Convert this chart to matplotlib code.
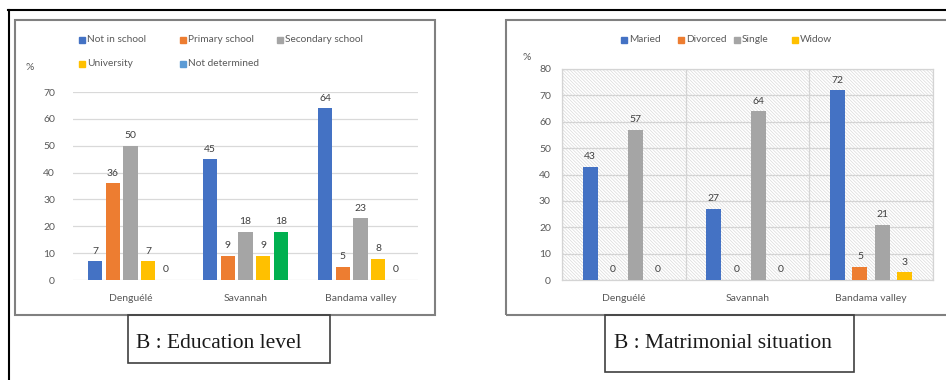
import numpy as np
import matplotlib
matplotlib.use("Agg")
import matplotlib.pyplot as plt
from matplotlib.patches import Rectangle
from matplotlib.lines import Line2D

# regions shared by both panels
regions = ["Denguélé", "Savannah", "Bandama valley"]

# education level (%)
edu_labels = ["Not in school", "Primary school", "Secondary school", "University", "Not determined"]
not_in_school = [7, 45, 64]
primary = [36, 9, 5]
secondary = [50, 18, 23]
university = [7, 9, 8]
not_determined = [0, 18, 0]

# matrimonial situation (%)
mat_labels = ["Maried", "Divorced", "Single", "Widow"]
maried = [43, 27, 72]
divorced = [0, 0, 5]
single = [57, 64, 21]
widow = [0, 0, 3]

BLUE, ORANGE, GRAY, YELLOW = "#4472C4", "#ED7D31", "#A5A5A5", "#FFC000"
LBLUE, GREEN = "#5B9BD5", "#00B050"
TXT = "#595959"

plt.rcParams["font.family"] = ["Lato", "DejaVu Sans"]
plt.rcParams["hatch.linewidth"] = 0.5
plt.rcParams["hatch.color"] = "#dadada"

W, H = 946, 380
fig = plt.figure(figsize=(W / 100, H / 100), dpi=100)


def px_axes(x0, y0, x1, y1):
    # pixel box (top-left origin) -> figure axes
    return fig.add_axes([x0 / W, 1 - y1 / H, (x1 - x0) / W, (y1 - y0) / H])


def px_rect(x0, y0, x1, y1, ec, lw):
    fig.patches.append(Rectangle((x0 / W, 1 - y1 / H), (x1 - x0) / W, (y1 - y0) / H,
                                 transform=fig.transFigure, fill=False,
                                 edgecolor=ec, linewidth=lw, zorder=5))


def px_text(x, y, s, **kw):
    fig.text(x / W, 1 - y / H, s, **kw)


def legend_row(items, y):
    for x, lab, col in items:
        fig.patches.append(Rectangle(((x - 3) / W, 1 - (y + 3) / H), 6 / W, 6 / H,
                                     transform=fig.transFigure, color=col, zorder=6))
        px_text(x + 5, y, lab, fontsize=7.3, color=TXT, va="center", ha="left")


def grouped(ax, series, colors, step, width):
    n = len(series)
    x = np.arange(len(regions))
    for i, (vals, col) in enumerate(zip(series, colors)):
        pos = x + (i - (n - 1) / 2) * step
        ax.bar(pos, vals, width, color=col, zorder=3)
        for p, v in zip(pos, vals):
            ax.annotate(f"{v}", (p, v), xytext=(0, 4), textcoords="offset points",
                        ha="center", va="bottom", fontsize=7.5, color="#404040")
    ax.set_xticks(x)
    ax.set_xticklabels(regions)
    ax.set_xlim(-0.5, len(regions) - 0.5)
    for s in ax.spines.values():
        s.set_visible(False)
    ax.tick_params(length=0, labelsize=7.5, labelcolor=TXT)
    ax.tick_params(axis="x", pad=10)


# outer frame
fig.add_artist(Line2D([8 / W, 1], [1 - 10 / H] * 2, color="black", lw=1.5, transform=fig.transFigure))
fig.add_artist(Line2D([8.5 / W] * 2, [1 - 10 / H, 0], color="black", lw=1.5, transform=fig.transFigure))

# --- education level ---
ax1 = px_axes(73, 92, 418, 280)
edu_colors = [BLUE, ORANGE, GRAY, YELLOW, [LBLUE, GREEN, LBLUE]]
grouped(ax1, [not_in_school, primary, secondary, university, not_determined],
        edu_colors, 0.153, 0.122)
ax1.set_ylim(0, 70)
ax1.set_yticks(range(0, 71, 10))
ax1.tick_params(axis="y", pad=13)
ax1.yaxis.grid(True, color="#d9d9d9", lw=0.9, zorder=0)

px_rect(15, 20, 435, 315, "#808080", 1.5)
px_rect(128, 315, 330, 363, "#404040", 1.2)
px_text(30, 67, "%", fontsize=7.5, color=TXT, ha="center", va="center")
legend_row([(82, edu_labels[0], BLUE), (183, edu_labels[1], ORANGE), (280, edu_labels[2], GRAY)], 40)
legend_row([(82, edu_labels[3], YELLOW), (183, edu_labels[4], LBLUE)], 64)
px_text(219, 344, "B : Education level", fontsize=15.5, family="Liberation Serif",
        color="#1a1a1a", ha="center", va="center")

# --- matrimonial situation ---
ax2 = px_axes(562, 69, 933, 280)
grouped(ax2, [maried, divorced, single, widow], [BLUE, ORANGE, GRAY, YELLOW], 0.181, 0.121)
ax2.set_ylim(0, 80)
ax2.set_yticks(range(0, 81, 10))
ax2.tick_params(axis="y", pad=8)
ax2.add_patch(Rectangle((0, 0), 1, 1, transform=ax2.transAxes, facecolor="white",
                        edgecolor="#dadada", hatch="\\" * 10, lw=0, zorder=0))
ax2.yaxis.grid(True, color="#d4d4d4", lw=0.9, zorder=1)
ax2.set_xticks([-0.5, 0.5, 1.5, 2.5], minor=True)
ax2.xaxis.grid(True, which="minor", color="#d4d4d4", lw=0.9, zorder=1)
ax2.tick_params(which="minor", length=0)
for s in ax2.spines.values():
    s.set_visible(True)
    s.set_color("#d4d4d4")
    s.set_linewidth(0.9)

px_rect(506, 20, 960, 315, "#808080", 1.5)
px_rect(605, 315, 854, 372, "#404040", 1.2)
px_text(527, 57, "%", fontsize=7.5, color=TXT, ha="center", va="center")
legend_row([(624, mat_labels[0], BLUE), (681, mat_labels[1], ORANGE),
            (737, mat_labels[2], GRAY), (795, mat_labels[3], YELLOW)], 40)
px_text(723, 343, "B : Matrimonial situation", fontsize=15.5, family="Liberation Serif",
        color="#1a1a1a", ha="center", va="center")

fig.savefig("out.png", dpi=100)
